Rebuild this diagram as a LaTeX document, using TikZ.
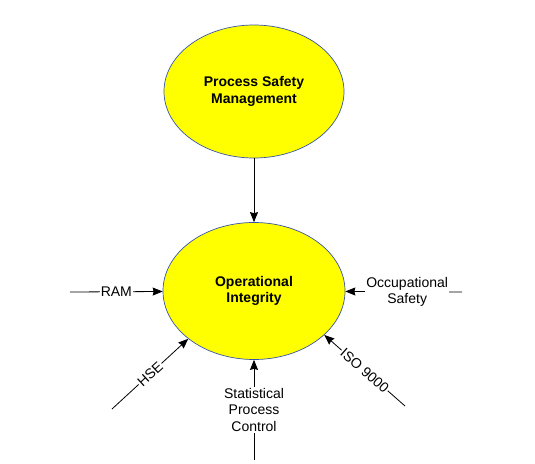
\documentclass[tikz,border=0pt]{standalone}
\usepackage{fontspec}
\setmainfont{Liberation Sans}
\usetikzlibrary{arrows.meta,positioning,shapes.geometric}
\definecolor{oiyellow}{HTML}{FFFF00}
\definecolor{oirim}{HTML}{3A55A8}
\tikzset{
  oi/.style={font=\fontsize{14}{16.5}\selectfont,
    text=black, line width=.8pt, >={Stealth[length=10pt,width=8pt,inset=1pt]}},
  hub/.style={ellipse,draw=oirim,fill=oiyellow,line width=.7pt,
    inner sep=0pt,align=center,font=\fontsize{14}{16.5}\selectfont\bfseries},
  tag/.style={fill=white,inner sep=1pt,align=center},
  flow/.style={->,draw=black,line width=.8pt},
}
\begin{document}
\begin{tikzpicture}[oi,x=1pt,y=1pt]
  % Fixed page, same size as the reference.
  \path[use as bounding box] (0,0) rectangle (535,-463);

  % ---------------- the two ellipses ----------------
  \node[hub,minimum width=180pt,minimum height=133pt] (psm) at (254,-91.5)
    {Process Safety\\Management};
  \node[hub,minimum width=182pt,minimum height=137pt] (integrity) at (254,-291)
    {Operational\\Integrity};
  \draw[flow] (psm) -- (integrity);

  % ---------------- contributing disciplines ----------------
  \coordinate (ramtail) at (70,-292);
  \coordinate (occtail) at (462,-292);
  \coordinate (hsetail) at (112,-409);
  \coordinate (isotail) at (405,-406);
  \coordinate (spctail) at (254,-460);

  \draw[flow] (ramtail) -- node[tag] (ram) {RAM} (integrity);
  \draw[flow] (occtail) -- node[tag,pos=.47] (occ) {Occupational\\Safety} (integrity);
  \draw[flow] (hsetail) -- node[tag,sloped] (hse) {HSE} (integrity.216);
  \draw[flow] (isotail) -- node[tag,sloped] (iso) {ISO 9000} (integrity.328);
  \draw[flow] (spctail) -- node[tag] (spc) {Statistical\\Process\\Control} (integrity);
\end{tikzpicture}
\end{document}
